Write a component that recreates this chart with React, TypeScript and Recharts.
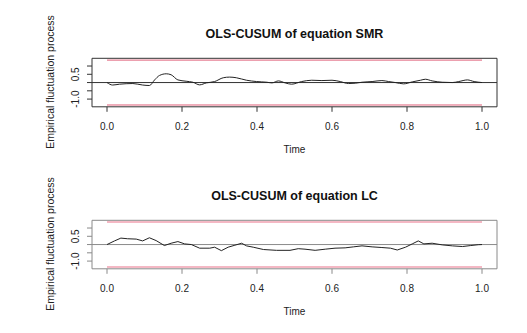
import React from "react";
import {
  LineChart,
  Line,
  XAxis,
  YAxis,
  ReferenceLine,
  ReferenceArea,
} from "recharts";

// OLS-CUSUM process, equation SMR
const smrTime = [
  0, 0.015, 0.033, 0.069, 0.095, 0.113, 0.127, 0.14, 0.158, 0.171, 0.189, 0.211,
  0.229, 0.247, 0.265, 0.287, 0.31, 0.327, 0.345, 0.372, 0.399, 0.426, 0.44,
  0.457, 0.475, 0.492, 0.519, 0.546, 0.573, 0.6, 0.622, 0.644, 0.662, 0.68,
  0.707, 0.733, 0.751, 0.769, 0.791, 0.814, 0.836, 0.849, 0.867, 0.894, 0.921,
  0.938, 0.961, 0.979, 1.0,
];
const smrValue = [
  0, -0.15, -0.1, -0.06, -0.15, -0.18, 0.16, 0.43, 0.53, 0.47, 0.16, 0.08, 0.02,
  -0.14, -0.02, 0.06, 0.29, 0.33, 0.29, 0.14, 0.06, 0.02, -0.02, 0.1, -0.02,
  -0.1, 0.06, 0.14, 0.12, 0.14, 0.06, -0.06, -0.04, 0.02, 0.06, 0.12, 0.06, 0,
  -0.08, 0.04, 0.14, 0.2, 0.1, 0.02, 0, 0.06, 0.16, 0.06, 0,
];

// OLS-CUSUM process, equation LC
const lcTime = [
  0, 0.02, 0.037, 0.055, 0.078, 0.095, 0.113, 0.131, 0.153, 0.171, 0.189, 0.207,
  0.225, 0.247, 0.274, 0.287, 0.305, 0.323, 0.341, 0.359, 0.372, 0.39, 0.417,
  0.452, 0.488, 0.51, 0.528, 0.555, 0.582, 0.608, 0.635, 0.657, 0.68, 0.707,
  0.733, 0.756, 0.774, 0.796, 0.814, 0.83, 0.845, 0.867, 0.894, 0.921, 0.948,
  0.97, 0.99, 1.0,
];
const lcValue = [
  0, 0.22, 0.39, 0.35, 0.33, 0.22, 0.41, 0.24, -0.06, 0.08, 0.18, 0.04, 0,
  -0.22, -0.22, -0.16, -0.37, -0.16, -0.04, 0.08, -0.08, -0.16, -0.3, -0.35,
  -0.35, -0.25, -0.28, -0.35, -0.28, -0.22, -0.2, -0.14, -0.08, -0.14, -0.18,
  -0.22, -0.33, -0.16, 0.04, 0.22, 0.04, 0.08, -0.02, -0.08, -0.12, -0.06,
  -0.01, 0,
];

const xTicks = [0, 0.2, 0.4, 0.6, 0.8, 1.0];
const yTicks = [-1, -0.5, 0, 0.5, 1];
const yLabelled = [0.5, -1];
const boundary = 1.358;
const xDomain = [-0.04, 1.04];
const yDomain = [-1.467, 1.467];

const FONT = '"Liberation Sans", Arial, Helvetica, sans-serif';

function YTick({ x, y, payload }: any) {
  if (!yLabelled.includes(payload.value)) return <g />;
  return (
    <text
      x={x}
      y={y}
      transform={`rotate(-90 ${x} ${y})`}
      textAnchor="middle"
      dominantBaseline="central"
      fontSize={10}
      fontFamily={FONT}
      fill="#222"
    >
      {payload.value.toFixed(1)}
    </text>
  );
}

interface PanelProps {
  title: string;
  time: number[];
  values: number[];
  top: number;
  frame: string;
  bound: string;
  boundWidth: number;
  curve: "monotone" | "linear";
}

function Panel({ title, time, values, top, frame, bound, boundWidth, curve }: PanelProps) {
  const data = time.map((t, i) => ({ t, v: values[i] }));
  return (
    <div style={{ position: "absolute", left: 0, top, width: 527, height: 166 }}>
      <LineChart
        width={527}
        height={166}
        data={data}
        margin={{ top: 58.3, right: 30, left: 0, bottom: 29.2 }}
      >
        <XAxis
          dataKey="t"
          type="number"
          domain={xDomain}
          ticks={xTicks}
          interval={0}
          height={30}
          tickFormatter={(v) => v.toFixed(1)}
          axisLine={false}
          tickLine={{ stroke: frame }}
          tickSize={5}
          tickMargin={11}
          tick={{ fontSize: 10, fontFamily: FONT, fill: "#222" }}
          allowDataOverflow
        />
        <YAxis
          type="number"
          domain={yDomain}
          ticks={yTicks}
          interval={0}
          width={92}
          axisLine={false}
          tickLine={{ stroke: frame }}
          tickSize={5}
          tickMargin={11}
          tick={<YTick />}
          allowDataOverflow
        />
        <ReferenceArea
          x1={xDomain[0]}
          x2={xDomain[1]}
          y1={yDomain[0]}
          y2={yDomain[1]}
          fill="none"
          fillOpacity={0}
          stroke={frame}
          strokeWidth={1}
        />
        <ReferenceLine y={0} stroke={frame} strokeWidth={1} />
        <ReferenceLine
          segment={[{ x: 0, y: boundary }, { x: 1, y: boundary }]}
          stroke={bound}
          strokeWidth={boundWidth}
        />
        <ReferenceLine
          segment={[{ x: 0, y: -boundary }, { x: 1, y: -boundary }]}
          stroke={bound}
          strokeWidth={boundWidth}
        />
        <Line
          type={curve}
          dataKey="v"
          stroke="#222"
          strokeWidth={1}
          dot={false}
          isAnimationActive={false}
        />
      </LineChart>
      <div
        style={{
          position: "absolute",
          left: 92,
          width: 405,
          top: 27,
          textAlign: "center",
          fontFamily: FONT,
          fontWeight: "bold",
          fontSize: 12.5,
          lineHeight: "14px",
          color: "#111",
        }}
      >
        {title}
      </div>
      <div
        style={{
          position: "absolute",
          left: 92,
          width: 405,
          top: 144,
          textAlign: "center",
          fontFamily: FONT,
          fontSize: 10,
          lineHeight: "12px",
          color: "#222",
        }}
      >
        Time
      </div>
      <div
        style={{
          position: "absolute",
          left: 50 - 100,
          top: 82 - 6,
          width: 200,
          textAlign: "center",
          fontFamily: FONT,
          fontSize: 10.5,
          lineHeight: "12px",
          color: "#222",
          transform: "rotate(-90deg)",
          whiteSpace: "nowrap",
        }}
      >
        Empirical fluctuation process
      </div>
    </div>
  );
}

export default function App() {
  return (
    <div
      style={{
        position: "absolute",
        left: 0,
        top: 0,
        width: 527,
        height: 333,
        background: "#fff",
        overflow: "hidden",
      }}
    >
      <Panel
        title="OLS-CUSUM of equation SMR"
        time={smrTime}
        values={smrValue}
        top={0}
        frame="#333"
        bound="#e0607a"
        boundWidth={1}
        curve="monotone"
      />
      <Panel
        title="OLS-CUSUM of equation LC"
        time={lcTime}
        values={lcValue}
        top={162}
        frame="#8a8a8a"
        bound="#f4b8c4"
        boundWidth={2}
        curve="linear"
      />
    </div>
  );
}
